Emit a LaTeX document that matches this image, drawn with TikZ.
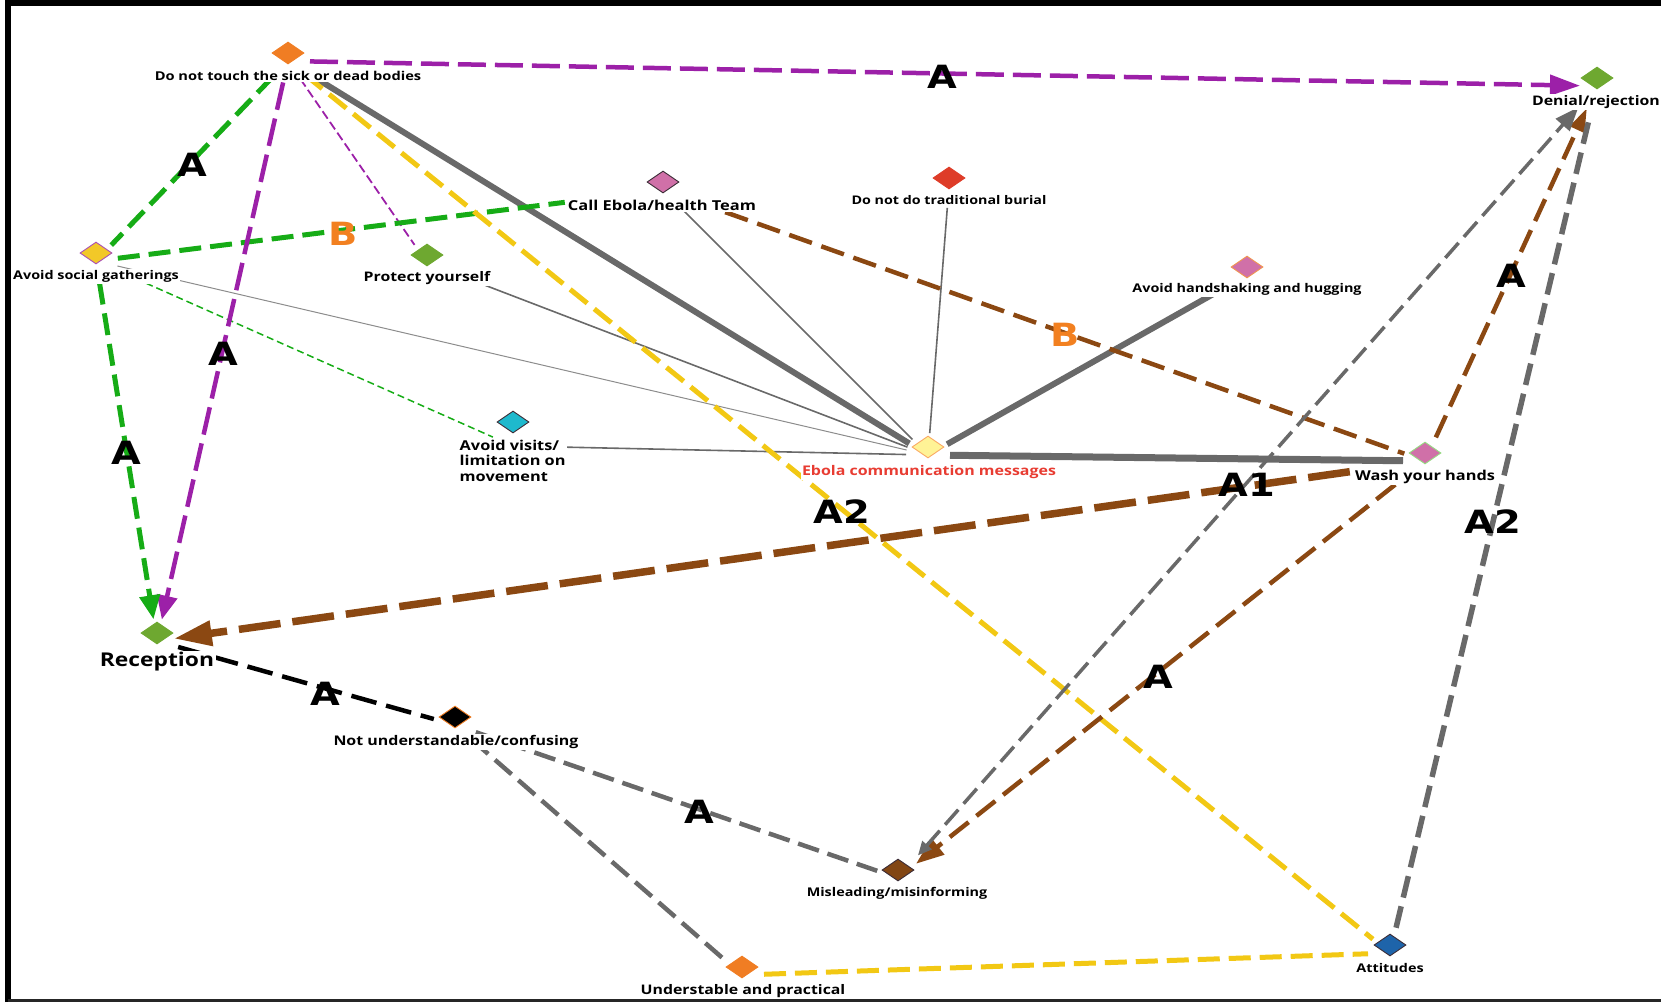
\documentclass[tikz,border=0pt]{standalone}
\usepackage{fontspec}
\setmainfont{Open Sans}[FakeStretch=1.2]
\newfontfamily\tagfont{DejaVu Sans}[FakeStretch=1.2]
\usetikzlibrary{shapes.geometric,arrows.meta,backgrounds}

% line colours
\definecolor{ePurple}{RGB}{156,32,168}
\definecolor{eGreen}{RGB}{22,172,22}
\definecolor{eYellow}{RGB}{242,200,20}
\definecolor{eGray}{RGB}{105,105,105}
\definecolor{eLightGray}{RGB}{140,140,140}
\definecolor{eBrown}{RGB}{139,72,18}
\definecolor{eOrange}{RGB}{242,128,32}
\definecolor{eRed}{RGB}{232,60,50}
% vertex colours
\definecolor{vOrange}{RGB}{240,125,35}
\definecolor{vGreen}{RGB}{110,168,48}
\definecolor{vYellow}{RGB}{242,200,40}
\definecolor{vLilac}{RGB}{170,80,180}
\definecolor{vPink}{RGB}{208,112,168}
\definecolor{vDark}{RGB}{60,45,55}
\definecolor{vRed}{RGB}{222,60,40}
\definecolor{vPeach}{RGB}{240,150,80}
\definecolor{vCyan}{RGB}{30,185,205}
\definecolor{vCream}{RGB}{255,243,150}
\definecolor{vSalmon}{RGB}{250,170,100}
\definecolor{vMint}{RGB}{150,220,130}
\definecolor{vBrown}{RGB}{130,70,20}
\definecolor{vBlue}{RGB}{30,100,170}

\newcommand{\fs}[1]{\bfseries\fontsize{#1}{#1}\selectfont}

\begin{document}
\begin{tikzpicture}[x=1pt,y=-1pt,
  vtx/.style={diamond,inner sep=0pt,minimum width=32pt,minimum height=22pt,line width=0.9pt},
  lbl/.style={fill=white,inner sep=1.5pt},
  tag/.style={font=\tagfont\fs{32},inner sep=0pt},
  link/.style={shorten <=22pt,shorten >=22pt},
  thickgray/.style={link,draw=eGray,line width=6pt},
  thingray/.style={link,draw=eGray,line width=1.6pt},
  hairgray/.style={link,draw=eLightGray,line width=1pt},
  purpled/.style={link,draw=ePurple,line width=4.5pt,dash pattern=on 28pt off 9pt},
  thinpurple/.style={link,draw=ePurple,line width=1.8pt,dash pattern=on 9pt off 4pt},
  greend/.style={link,draw=eGreen,line width=5pt,dash pattern=on 22pt off 9pt},
  thingreen/.style={link,draw=eGreen,line width=1.5pt,dash pattern=on 7pt off 4pt},
  yellowd/.style={link,draw=eYellow,line width=5pt,dash pattern=on 22pt off 9pt},
  brownd/.style={link,draw=eBrown,line width=4.5pt,dash pattern=on 24pt off 10pt},
  brownwide/.style={link,draw=eBrown,line width=7.5pt,dash pattern=on 42pt off 12pt},
  grayd/.style={link,draw=eGray,line width=4.5pt,dash pattern=on 22pt off 9pt},
  grayslim/.style={link,draw=eGray,line width=3.5pt,dash pattern=on 20pt off 8pt},
  blackd/.style={link,draw=black,line width=4.5pt,dash pattern=on 26pt off 10pt},
]
\useasboundingbox (0,0) rectangle (1661,1002);

% ---- message and reaction vertices ----
\node[vtx,fill=vOrange,draw=vOrange]   (touch)     at (288,53)  {};
\node[vtx,fill=vGreen,draw=vGreen]     (denial)    at (1597,78) {};
\node[vtx,fill=vYellow,draw=vLilac]    (social)    at (96,253)  {};
\node[vtx,fill=vGreen,draw=vGreen]     (protect)   at (427,255) {};
\node[vtx,fill=vPink,draw=vDark]       (call)      at (663,182) {};
\node[vtx,fill=vRed,draw=vRed]         (burial)    at (949,178) {};
\node[vtx,fill=vPink,draw=vPeach]      (hand)      at (1247,267) {};
\node[vtx,fill=vCyan,draw=vDark]       (visits)    at (513,422) {};
\node[vtx,fill=vCream,draw=vSalmon]    (ebola)     at (928,447) {};
\node[vtx,fill=vPink,draw=vMint]       (wash)      at (1425,453) {};
\node[vtx,fill=vGreen,draw=vGreen]     (reception) at (157,633) {};
\node[vtx,fill=black,draw=vOrange]     (notund)    at (455,717) {};
\node[vtx,fill=vBrown,draw=vDark]      (mislead)   at (898,870) {};
\node[vtx,fill=vOrange,draw=vOrange]   (underst)   at (742,967) {};
\node[vtx,fill=vBlue,draw=vDark]       (attitudes) at (1390,945) {};

% link attachment points, just below each vertex
\foreach \v in {touch,denial,social,protect,call,burial,hand,ebola,wash,reception,notund,mislead,underst,attitudes}
  \coordinate (\v-a) at ([yshift=-8pt]\v.center);
\coordinate (visits-a) at ([yshift=-24pt]visits.center);

% ---- vertex labels ----
\node[lbl,font=\fs{12.2}] (ltouch) at (288,76) {Do not touch the sick or dead bodies};
\node[lbl,font=\fs{13.2}] (ldenial) at (1596,102) {Denial/rejection};
\node[lbl,font=\fs{12}] (lsocial) at (96,276) {Avoid social gatherings};
\node[lbl,font=\fs{13.2}] (lprotect) at (427,278) {Protect yourself};
\node[lbl,font=\fs{13.7}] (lcall) at (662,205) {Call Ebola/health Team};
\node[lbl,font=\fs{11.9}] (lburial) at (949,200) {Do not do traditional burial};
\node[lbl,font=\fs{12}] (lhand) at (1247,289) {Avoid handshaking and hugging};
\node[lbl,align=left,anchor=north west,font=\bfseries\fontsize{13.6}{15.5}\selectfont] (lvisits) at (458,438) {Avoid visits/\\limitation on\\movement};
\node[lbl,text=eRed,font=\fs{13.3}] (lebola) at (929,472) {Ebola communication messages};
\node[lbl,font=\fs{13.6}] (lwash) at (1425,477) {Wash your hands};
\node[lbl,font=\fs{19}] (lreception) at (157,662) {Reception};
\node[lbl,font=\fs{13.3}] (lnotund) at (456,742) {Not understandable/confusing};
\node[lbl,font=\fs{12}] (lmislead) at (897,893) {Misleading/misinforming};
\node[lbl,font=\fs{13.2}] (lunderst) at (743,991) {Understable and practical};
\node[lbl,font=\fs{12}] (lattitudes) at (1390,968) {Attitudes};

% ---- links, kept under vertices and labels ----
\begin{scope}[on background layer]
  % links into the hub
  \draw[thickgray] (touch-a) -- (ebola-a);
  \draw[thickgray] (hand-a) -- (ebola-a);
  \draw[thickgray,line width=7pt] (ebola-a) -- (wash-a);
  \draw[hairgray] (social-a) -- (ebola-a);
  \draw[thingray] (protect-a) -- (ebola-a);
  \draw[thingray] (call-a) -- (ebola-a);
  \draw[thingray] (burial-a) -- (ebola-a);
  \draw[thingray] (visits-a) -- (ebola-a);
  % links among messages
  \draw[greend] (touch-a) -- (social-a);
  \draw[thinpurple] (touch-a) -- (protect-a);
  \draw[greend,shorten >=99pt] (social-a) -- (call-a);
  \draw[thingreen] (social-a) -- (visits-a);
  \draw[brownd,shorten <=66pt] (call-a) -- (wash-a);
  % links to reactions
  \draw[purpled,-{Triangle[length=30pt,width=20pt]},shorten >=17pt] (touch-a) -- (denial-a);
  \draw[purpled,-{Triangle[length=24pt,width=20pt]},shorten >=22pt] (touch-a) -- (reception-a);
  \draw[yellowd] (touch-a) -- (attitudes-a);
  \draw[greend,-{Triangle[length=24pt,width=20pt]},shorten >=22pt] (social-a) -- (reception-a);
  \draw[brownwide,-{Triangle[length=38pt,width=24pt]},shorten <=76pt,shorten >=17pt] (wash-a) -- (reception-a);
  \draw[brownd,-{Triangle[length=28pt,width=20pt]},shorten <=38pt,shorten >=23pt] (wash-a) -- (mislead-a);
  \draw[brownd,-{Triangle[length=24pt,width=15pt]},shorten <=26pt,shorten >=24pt] (wash-a) -- (denial-a);
  \draw[blackd] (reception-a) -- (notund-a);
  \draw[grayd] (notund-a) -- (underst-a);
  \draw[grayd] (notund-a) -- (mislead-a);
  \draw[grayslim,{Triangle[length=14pt,width=12pt]}-{Triangle[length=24pt,width=18pt]},shorten <=30pt,shorten >=28pt] (mislead-a) -- (denial-a);
  \draw[grayd,line width=5.5pt,shorten <=26pt,shorten >=30pt] (attitudes-a) -- (denial-a);
  \draw[yellowd] (underst-a) -- (attitudes-a);
\end{scope}

% ---- link tags ----
\node[tag] (t1)  at (942,77)   {A};
\node[tag] (t2)  at (192,165)  {A};
\node[tag] (t3)  at (223,354)  {A};
\node[tag] (t4)  at (126,453)  {A};
\node[tag,text=eOrange] (t5) at (343,234) {B};
\node[tag,text=eOrange] (t6) at (1065,335) {B};
\node[tag] (t7)  at (1511,276) {A};
\node[tag] (t8)  at (1247,485) {A1};
\node[tag] (t9)  at (842,512)  {A2};
\node[tag] (t10) at (1493,522) {A2};
\node[tag] (t11) at (1158,677) {A};
\node[tag] (t12) at (699,812)  {A};
\node[tag] (t13) at (325,694)  {A};

% ---- frame ----
\draw[line width=6pt] (8,1002) -- (8,3) -- (1661,3);
\draw[line width=2.5pt,draw=black!85] (8,1000.5) -- (1661,1000.5);
\end{tikzpicture}
\end{document}
